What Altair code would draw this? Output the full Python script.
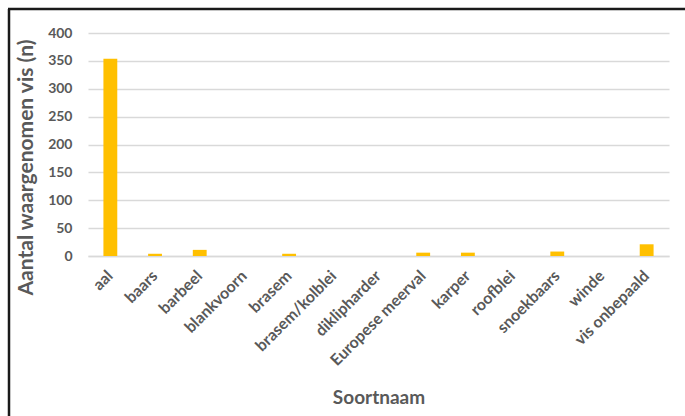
import altair as alt
import pandas as pd

# Observed fish per species
soorten = [
    "aal", "baars", "barbeel", "blankvoorn", "brasem", "brasem/kolblei",
    "diklipharder", "Europese meerval", "karper", "roofblei", "snoekbaars",
    "winde", "vis onbepaald",
]
aantallen = [354, 4, 11, 0, 4, 0, 0, 6, 6, 0, 8, 0, 21]
y_ticks = [0, 50, 100, 150, 200, 250, 300, 350, 400]

df = pd.DataFrame({"soort": soorten, "aantal": aantallen})

FONT = "Lato"
GREY = "#595959"
PLOT_W, PLOT_H = 581, 223

bars = alt.Chart(df).mark_bar(color="#FFC000").encode(
    x=alt.X(
        "soort:N",
        sort=None,
        scale=alt.Scale(paddingInner=0.69, paddingOuter=0.345),
        axis=alt.Axis(
            title="Soortnaam",
            labelAngle=-45,
            labelAlign="right",
            labelBaseline="middle",
            labelPadding=17,
            labelFontSize=16,
            labelFontWeight="bold",
            labelColor=GREY,
            labelFont=FONT,
            ticks=False,
            domainColor="#d9d9d9",
            domainWidth=1.5,
            titleFont=FONT,
            titleFontSize=19,
            titleFontWeight="bold",
            titleColor=GREY,
            titleBaseline="alphabetic",
            titleY=147,
        ),
    ),
    y=alt.Y(
        "aantal:Q",
        scale=alt.Scale(domain=[0, 400], nice=False),
        axis=alt.Axis(
            title="Aantal waargenomen vis (n)",
            values=y_ticks,
            labelFontSize=14,
            labelColor=GREY,
            labelFont=FONT,
            labelFontWeight="bold",
            labelPadding=16,
            ticks=False,
            domain=False,
            gridColor="#d9d9d9",
            gridWidth=1.5,
            titleFont=FONT,
            titleFontSize=21,
            titleFontWeight="bold",
            titleColor=GREY,
            titleAngle=-90,
            titleAlign="center",
            titleBaseline="alphabetic",
            titleX=-56,
            titleY=134,
        ),
    ),
)

# Outer frame lines along the top and left of the figure
anchor = pd.DataFrame({"k": [0]})
frame_left = alt.Chart(anchor).mark_rule(color="#1a1a1a", strokeWidth=2.5).encode(
    x=alt.value(-79), y=alt.value(-24), y2=alt.value(400)
)
frame_top = alt.Chart(anchor).mark_rule(color="#1a1a1a", strokeWidth=2.5).encode(
    x=alt.value(-80), x2=alt.value(620), y=alt.value(-24)
)

chart = (
    alt.layer(bars, frame_left, frame_top)
    .properties(
        width=PLOT_W,
        height=PLOT_H,
        autosize=alt.AutoSizeParams(type="none"),
        padding={"left": 88, "top": 33, "right": 16, "bottom": 160},
        background="white",
    )
    .configure_view(stroke=None)
)

chart.save("out.html", embed_options={"renderer": "svg", "actions": False})
